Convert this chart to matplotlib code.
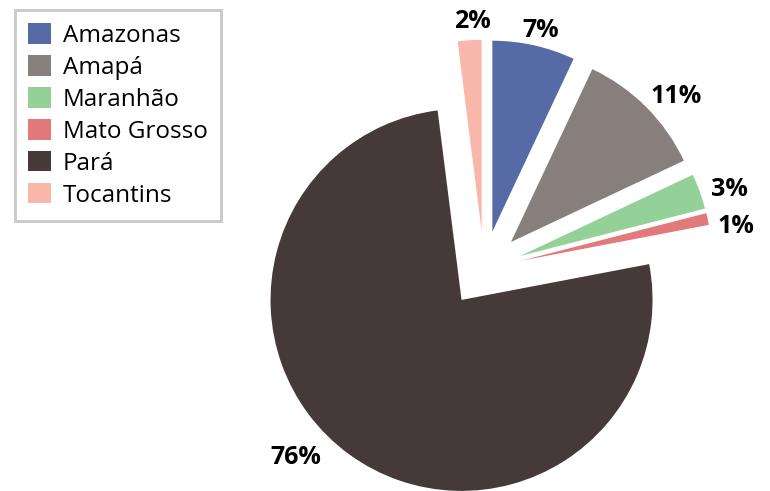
import matplotlib
matplotlib.use("Agg")
import matplotlib.pyplot as plt

states = ["Amazonas", "Amapá", "Maranhão", "Mato Grosso", "Pará", "Tocantins"]
shares = [7, 11, 3, 1, 76, 2]
colors = ["#566ba6", "#867f7c", "#93d198", "#e2797c", "#453a39", "#f9b7ab"]

# small pixel nudges (right, down) for the percentage labels
label_nudge = [(1, 9), (12, 7), (6, 7), (4, 13), (-39, -17), (4, 6)]

plt.rcParams['font.family'] = ['Open Sans', 'DejaVu Sans']

W, H = 770, 491
fig = plt.figure(figsize=(W / 100, H / 100), dpi=100)
ax = fig.add_axes([0, 0, 1, 1])

wedges, texts, pcts = ax.pie(
    shares,
    colors=colors,
    startangle=90,
    counterclock=False,
    explode=[0.2] * len(shares),
    autopct='%.0f%%',
    pctdistance=1.13,
    wedgeprops=dict(linewidth=0),
    textprops=dict(fontsize=18, fontweight='bold', color='black'),
)

# place pie centre at (484, 269) px from top-left, radius ~191 px
px = 191.0
cx, cy = 484, 269
ax.set_xlim(-cx / px, (W - cx) / px)
ax.set_ylim(-(H - cy) / px, cy / px)
ax.set_aspect('auto')
ax.axis('off')

for t, (dx, dy) in zip(pcts, label_nudge):
    x, y = t.get_position()
    t.set_position((x + dx / px, y - dy / px))

leg = ax.legend(
    wedges, states,
    loc='upper left',
    bbox_to_anchor=(15 / W, 1 - 10 / H),
    bbox_transform=fig.transFigure,
    borderaxespad=0,
    fontsize=17.5,
    handlelength=0.92,
    handleheight=0.92,
    handletextpad=0.5,
    labelspacing=0.3,
    borderpad=0.55,
    fancybox=False,
    framealpha=1,
)
leg.get_frame().set_edgecolor('#c8c8c8')
leg.get_frame().set_linewidth(2)

fig.savefig("out.png", dpi=100)
